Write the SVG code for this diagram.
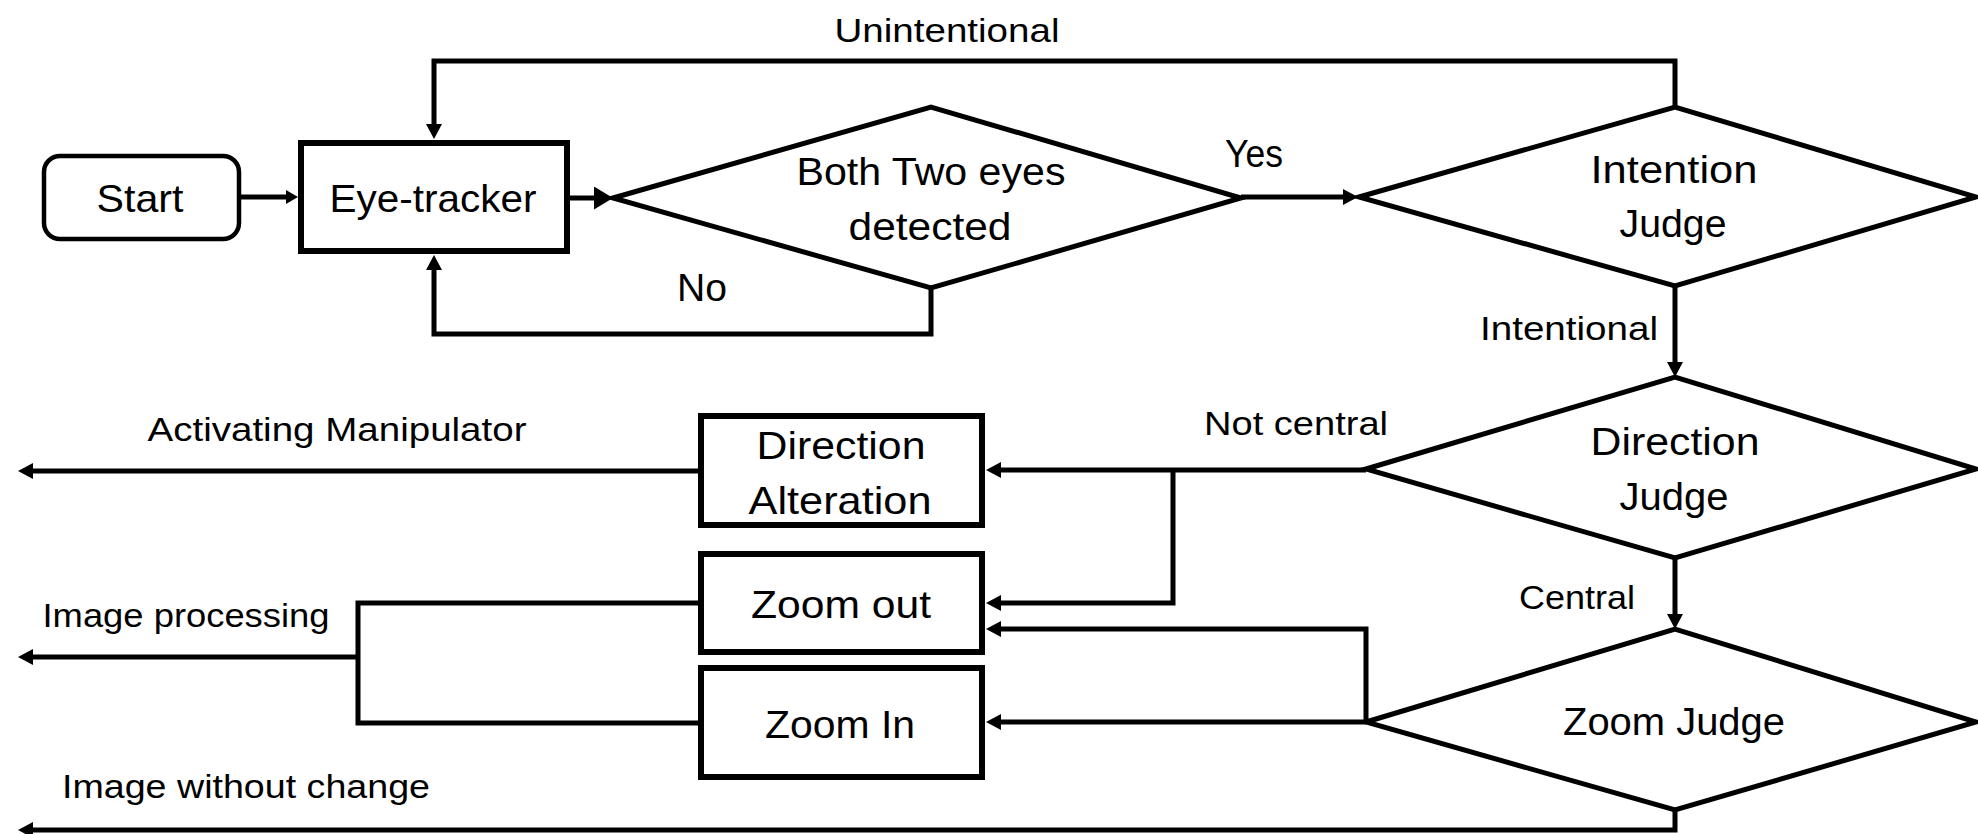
<svg xmlns="http://www.w3.org/2000/svg" width="1978" height="834" viewBox="0 0 1978 834">
  <style>
    .box { fill: #fff; stroke: #000; stroke-width: 6; }
    .term { fill: #fff; stroke: #000; stroke-width: 4.5; }
    .dec { fill: #fff; stroke: #000; stroke-width: 5; stroke-linejoin: miter; }
    .wire { fill: none; stroke: #000; stroke-width: 5; stroke-linejoin: miter; }
    .t { font-family: "Liberation Sans", Arial, sans-serif; font-size: 39px; fill: #000; text-anchor: middle; }
    .lbl { font-family: "Liberation Sans", Arial, sans-serif; font-size: 34px; fill: #000; text-anchor: middle; }
  </style>
  <defs>
    <marker id="arrow" markerUnits="userSpaceOnUse" markerWidth="15" markerHeight="16" refX="1" refY="8" orient="auto" viewBox="0 0 15 16">
      <path d="M0,0 L15,8 L0,16 Z" fill="#000"/>
    </marker>
    <marker id="arrowSmall" markerUnits="userSpaceOnUse" markerWidth="12" markerHeight="14" refX="1" refY="7" orient="auto" viewBox="0 0 12 14">
      <path d="M0,0 L12,7 L0,14 Z" fill="#000"/>
    </marker>
    <marker id="arrowBig" markerUnits="userSpaceOnUse" markerWidth="19" markerHeight="23" refX="1" refY="11.5" orient="auto" viewBox="0 0 19 23">
      <path d="M0,0 L19,11.5 L0,23 Z" fill="#000"/>
    </marker>
  </defs>

  <rect width="1978" height="834" fill="#fff"/>

  <!-- connectors -->
  <g id="connectors">
    <line class="wire" x1="241" y1="197" x2="287" y2="197" stroke-width="3.5" marker-end="url(#arrowSmall)"/>
    <line class="wire" x1="570" y1="198" x2="595" y2="198" stroke-width="7" marker-end="url(#arrowBig)"/>
    <line class="wire" x1="1241" y1="197" x2="1344" y2="197" marker-end="url(#arrow)"/>
    <path class="wire" d="M931,288 V334 H434 V269" marker-end="url(#arrow)"/>
    <path class="wire" d="M1675,107 V61 H434 V125" marker-end="url(#arrow)"/>
    <line class="wire" x1="1675" y1="286" x2="1675" y2="363" marker-end="url(#arrow)"/>
    <line class="wire" x1="1366" y1="470" x2="1000" y2="470" marker-end="url(#arrow)"/>
    <path class="wire" d="M1173,470 V603 H1000" marker-end="url(#arrow)"/>
    <line class="wire" x1="1675" y1="558" x2="1675" y2="615" marker-end="url(#arrow)"/>
    <path class="wire" d="M1366,722 V629 H1000" marker-end="url(#arrow)"/>
    <line class="wire" x1="1366" y1="722" x2="1000" y2="722" stroke-width="4" marker-end="url(#arrow)"/>
    <path class="wire" d="M1675,810 V830 H32" marker-end="url(#arrow)"/>
    <line class="wire" x1="698" y1="471" x2="32" y2="471" marker-end="url(#arrow)"/>
    <path class="wire" d="M698,603 H358 V723 H698"/>
    <line class="wire" x1="358" y1="657" x2="32" y2="657" marker-end="url(#arrow)"/>

    <text class="lbl" x="947" y="42" textLength="225" lengthAdjust="spacingAndGlyphs">Unintentional</text>
    <text class="t" x="1254" y="167" textLength="58" lengthAdjust="spacingAndGlyphs">Yes</text>
    <text class="t" x="702" y="301" textLength="50" lengthAdjust="spacingAndGlyphs">No</text>
    <text class="lbl" x="1569" y="340" textLength="178" lengthAdjust="spacingAndGlyphs">Intentional</text>
    <text class="lbl" x="1296" y="435" textLength="184" lengthAdjust="spacingAndGlyphs">Not central</text>
    <text class="lbl" x="1577" y="609" textLength="116" lengthAdjust="spacingAndGlyphs">Central</text>
    <text class="lbl" x="337" y="441" textLength="379" lengthAdjust="spacingAndGlyphs">Activating Manipulator</text>
    <text class="lbl" x="186" y="627" textLength="287" lengthAdjust="spacingAndGlyphs">Image processing</text>
    <text class="lbl" x="246" y="798" textLength="368" lengthAdjust="spacingAndGlyphs">Image without change</text>
  </g>

  <g id="start">
    <rect class="term" x="44" y="156" width="195" height="83" rx="16"/>
    <text class="t" x="140" y="212" textLength="87" lengthAdjust="spacingAndGlyphs">Start</text>
  </g>

  <g id="eye-tracker">
    <rect class="box" x="301" y="143" width="266" height="108"/>
    <text class="t" x="433" y="212" textLength="207" lengthAdjust="spacingAndGlyphs">Eye-tracker</text>
  </g>

  <g id="eyes-detected">
    <polygon class="dec" points="613,198 931,107 1241,198 931,288"/>
    <text class="t" x="931" y="185" textLength="269" lengthAdjust="spacingAndGlyphs">Both Two eyes</text>
    <text class="t" x="930" y="240" textLength="163" lengthAdjust="spacingAndGlyphs">detected</text>
  </g>

  <g id="intention-judge">
    <polygon class="dec" points="1359,197 1675,107 1976,197 1675,286"/>
    <text class="t" x="1674" y="183" textLength="167" lengthAdjust="spacingAndGlyphs">Intention</text>
    <text class="t" x="1673" y="237" textLength="107" lengthAdjust="spacingAndGlyphs">Judge</text>
  </g>

  <g id="direction-judge">
    <polygon class="dec" points="1366,469 1675,377 1976,469 1675,558"/>
    <text class="t" x="1675" y="455" textLength="169" lengthAdjust="spacingAndGlyphs">Direction</text>
    <text class="t" x="1674" y="510" textLength="109" lengthAdjust="spacingAndGlyphs">Judge</text>
  </g>

  <g id="zoom-judge">
    <polygon class="dec" points="1366,722 1675,629 1976,722 1675,810"/>
    <text class="t" x="1674" y="735" textLength="222" lengthAdjust="spacingAndGlyphs">Zoom Judge</text>
  </g>

  <g id="direction-alteration">
    <rect class="box" x="701" y="416" width="281" height="109"/>
    <text class="t" x="841" y="459" textLength="169" lengthAdjust="spacingAndGlyphs">Direction</text>
    <text class="t" x="840" y="514" textLength="183" lengthAdjust="spacingAndGlyphs">Alteration</text>
  </g>

  <g id="zoom-out">
    <rect class="box" x="701" y="554" width="281" height="98"/>
    <text class="t" x="841" y="618" textLength="180" lengthAdjust="spacingAndGlyphs">Zoom out</text>
  </g>

  <g id="zoom-in">
    <rect class="box" x="701" y="668" width="281" height="109"/>
    <text class="t" x="840" y="738" textLength="150" lengthAdjust="spacingAndGlyphs">Zoom In</text>
  </g>
</svg>
